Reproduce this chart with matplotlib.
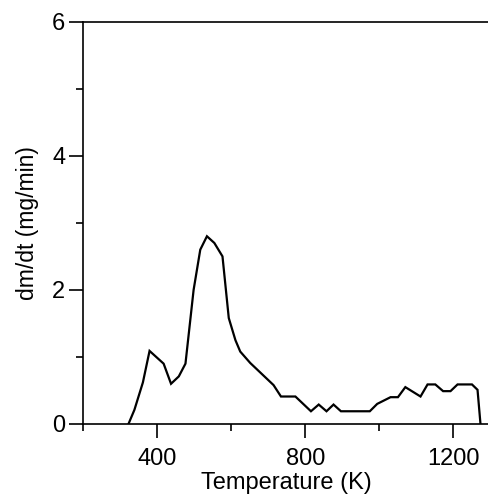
import matplotlib
matplotlib.use("Agg")
import matplotlib.pyplot as plt
from matplotlib.ticker import MultipleLocator

plt.rcParams['font.family'] = ['Liberation Sans', 'DejaVu Sans']

temperature = [322, 338, 361, 379, 417, 437, 458, 476, 498, 516, 534, 554, 576,
               593, 611, 624, 651, 714, 734, 773, 815, 836, 857, 876, 896, 974,
               994, 1030, 1050, 1070, 1111, 1130, 1151, 1172, 1192, 1211, 1250,
               1265, 1273]
dmdt = [0.0, 0.21, 0.62, 1.09, 0.90, 0.60, 0.71, 0.90, 2.0, 2.6, 2.8, 2.7, 2.5,
        1.58, 1.25, 1.08, 0.91, 0.58, 0.41, 0.41, 0.19, 0.29, 0.19, 0.29, 0.19,
        0.19, 0.30, 0.40, 0.40, 0.55, 0.41, 0.59, 0.59, 0.49, 0.49, 0.59, 0.59,
        0.51, 0.0]

xticks = [400, 800, 1200]
yticks = [0, 2, 4, 6]

fig = plt.figure(figsize=(4.89, 4.96), dpi=100)
ax = fig.add_axes([83.3/489, 1-424/496, 1-83.3/489, (424-21.7)/496])
ax.plot(temperature, dmdt, color='black', lw=1.6, solid_joinstyle='miter')
ax.set_xlim(200, 1296)
ax.set_ylim(0, 6)
ax.set_xticks(xticks)
ax.set_yticks(yticks)
ax.xaxis.set_minor_locator(MultipleLocator(200))
ax.yaxis.set_minor_locator(MultipleLocator(1))
ax.spines['right'].set_visible(False)
for s in ['left', 'bottom', 'top']:
    ax.spines[s].set_linewidth(1.2)
ax.tick_params(which='major', length=10, width=1.2, labelsize=17, direction='out')
ax.tick_params(axis='x', which='major', pad=7)
ax.tick_params(axis='y', which='major', pad=3)
ax.tick_params(which='minor', length=5, width=1.2, direction='out')
ax.tick_params(top=False, which='both')
ax.set_xlabel('Temperature (K)', fontsize=17, labelpad=2)
ax.set_ylabel('dm/dt (mg/min)', fontsize=16.5, labelpad=9)
fig.savefig('out.png', dpi=100)
